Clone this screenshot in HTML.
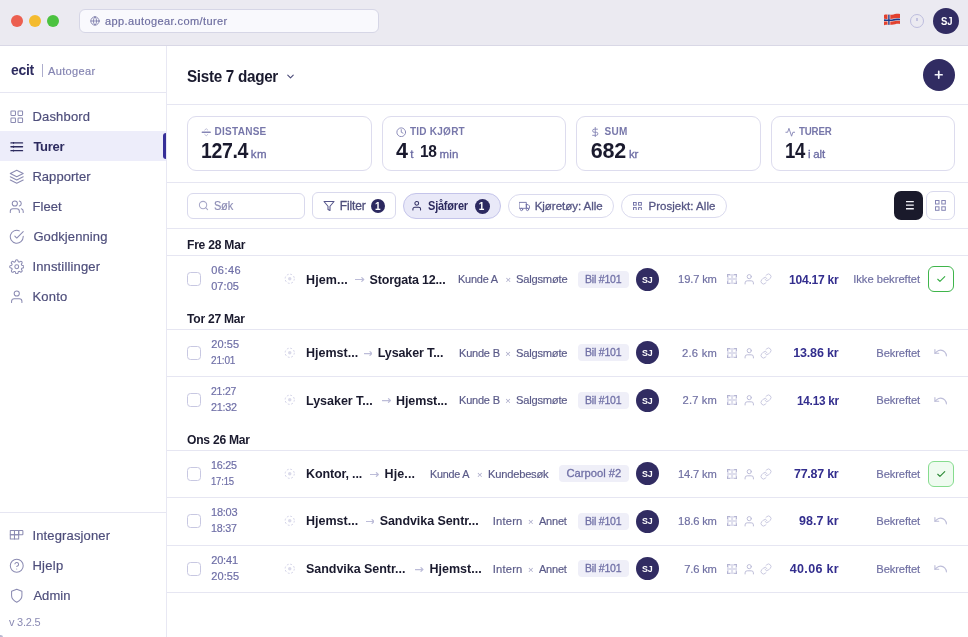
<!DOCTYPE html>
<html lang="nb"><head><meta charset="utf-8"><title>Autogear – Turer</title>
<style>
*{box-sizing:border-box;margin:0;padding:0}
html,body{width:968px;height:637px;overflow:hidden;background:#fff;font-family:"Liberation Sans",sans-serif;}
.abs,.t,svg.i{position:absolute}
.t{white-space:nowrap;display:block;transform-origin:0 50%}
.m{-webkit-text-stroke:0.3px currentColor}
.n{-webkit-text-stroke:0.18px currentColor}
.titlebar{position:absolute;left:0;top:0;width:968px;height:46px;background:#ebeaf1;border-bottom:1px solid #d9d8e6}
.dot{position:absolute;width:12px;height:12px;border-radius:50%;top:15px}
.url{position:absolute;left:79px;top:9px;width:300px;height:24px;background:#f9f9fd;border:1px solid #d6d6e6;border-radius:6px}
.av{position:absolute;border-radius:50%;background:#312c62}
.sidebar{position:absolute;left:0;top:46px;width:167px;height:591px;background:#fff;border-right:1px solid #e8e8f3}
.hl{position:absolute;height:1px;background:#e6e6f2}
.navact{position:absolute;left:0;top:131px;width:166px;height:30px;background:#ededfa}
.navbar{position:absolute;left:163px;top:133px;width:3px;height:26px;background:#372f98;border-radius:3px 0 0 3px}
.card{position:absolute;top:116px;height:55px;border:1px solid #dddcee;border-radius:9px;background:#fff}
.inp{position:absolute;border:1px solid #d9d9ed;background:#fff}
.badge{position:absolute;border-radius:50%;background:#2c2960}
.cb{position:absolute;left:187px;width:14px;height:14px;border:1px solid #c8c8e2;border-radius:3.5px;background:#fff}
.tag{position:absolute;height:17px;border-radius:4px;background:#efeff8}
.okb{position:absolute;left:928px;width:26px;height:26px;border-radius:6px;border:1px solid #3fb54b;background:#fff}
</style></head>
<body>
<header class="titlebar">
<div class="dot" style="left:11px;background:#ec5f50"></div>
<div class="dot" style="left:29px;background:#f4bb2f"></div>
<div class="dot" style="left:47px;background:#4bc240"></div>
<div class="url"></div>
<svg class="i" style="left:89.5px;top:15.5px" width="10" height="10" viewBox="0 0 24 24" fill="none" stroke="#7a7aa8" stroke-width="2" stroke-linecap="round" stroke-linejoin="round" ><circle cx="12" cy="12" r="10"/><path d="M2 12h20"/><path d="M12 2a15.3 15.3 0 0 1 4 10 15.3 15.3 0 0 1-4 10 15.3 15.3 0 0 1-4-10 15.3 15.3 0 0 1 4-10z"/></svg>
<span class="t n" style="left:105.0px;top:13.5px;font-size:11px;line-height:14px;color:#6e6ea0;letter-spacing:0.40px;">app.autogear.com/turer</span>
<svg class="i" style="left:884px;top:13px" width="16.2" height="13" viewBox="0 0 16.2 13"><defs><clipPath id="fl"><path d="M0 2C2.500 1 5 2.300 8 1.700S13.500 .2 16.200 1.100V11.100C13.500 10.200 11 11.400 8 11.700S2.500 11.300 0 12.300Z"/></clipPath></defs><g clip-path="url(#fl)"><rect width="16.200" height="13" fill="#e2412f"/><path d="M0 5.700C3 5.900 5 6.200 8 5.800S13 4.800 16.200 5.100V7.800C13 7.500 11 8.300 8 8.500S3 8.400 0 8.600Z" fill="#f3eeee"/><path d="M3.500 0H6.300V13H3.500z" fill="#f3eeee"/><path d="M0 6.300C3 6.500 5 6.800 8 6.400S13 5.400 16.200 5.700V7.200C13 6.900 11 7.700 8 7.900S3 7.800 0 8Z" fill="#1d3a8a"/><path d="M4.200 0H5.600V13H4.200z" fill="#1d3a8a"/></g></svg>
<div class="abs" style="left:909.7px;top:13.6px;width:14.5px;height:14.5px;border-radius:50%;border:1.2px solid #bdbdde"></div>
<div class="abs" style="left:916.2px;top:18.2px;width:1.5px;height:2.7px;background:#c3c3e0"></div>
<div class="av" style="left:933px;top:8px;width:26px;height:26px"></div>
<span class="t" style="left:940.6px;top:15.1px;font-size:10px;line-height:13px;font-weight:700;color:#fff;letter-spacing:-0.20px;transform:scaleX(0.950);">SJ</span>
</header>
<aside>
<div class="sidebar" style="top:46px"></div>
<span class="t" style="left:11.0px;top:61.0px;font-size:14px;line-height:18px;font-weight:700;color:#2d2b5f;letter-spacing:-0.28px;transform:scaleX(0.995);">ecit</span>
<div class="abs" style="left:42.1px;top:64.3px;width:1.3px;height:13px;background:#adadcd"></div>
<span class="t n" style="left:48.0px;top:64.0px;font-size:11px;line-height:14px;color:#8585b2;letter-spacing:0.36px;">Autogear</span>
<div class="hl" style="left:0;top:92px;width:166px"></div>
<div class="navact"></div><div class="navbar"></div>
<svg class="i" style="left:8.65px;top:108.55px" width="15.5" height="15.5" viewBox="0 0 24 24" fill="none" stroke="#8b8bb2" stroke-width="1.6" stroke-linecap="round" stroke-linejoin="round" ><rect x="3" y="3" width="7" height="7" rx="1"/><rect x="14" y="3" width="7" height="7" rx="1"/><rect x="3" y="14" width="7" height="7" rx="1"/><rect x="14" y="14" width="7" height="7" rx="1"/></svg>
<span class="t n" style="left:32.4px;top:107.8px;font-size:13px;line-height:17px;color:#4e4e7b;letter-spacing:0.19px;">Dashbord</span>
<svg class="i" style="left:8.65px;top:138.55px" width="15.5" height="15.5" viewBox="0 0 24 24" fill="none" stroke="#2d2b5f" stroke-width="2" stroke-linecap="round" stroke-linejoin="round" ><path d="M3 6h18M3 12h18M3 18h18"/><path d="M7 4.600v2.800M7 10.600v2.800M7 16.600v2.800" stroke-width="1.7" stroke-linecap="butt"/></svg>
<span class="t" style="left:33.4px;top:137.8px;font-size:13px;line-height:17px;font-weight:700;color:#2d2b5f;letter-spacing:-0.25px;">Turer</span>
<svg class="i" style="left:8.65px;top:168.55px" width="15.5" height="15.5" viewBox="0 0 24 24" fill="none" stroke="#8b8bb2" stroke-width="1.6" stroke-linecap="round" stroke-linejoin="round" ><path d="M12 2 2 7l10 5 10-5-10-5z"/><path d="m2 12 10 5 10-5"/><path d="m2 17 10 5 10-5"/></svg>
<span class="t n" style="left:32.4px;top:167.8px;font-size:13px;line-height:17px;color:#4e4e7b;letter-spacing:0.05px;">Rapporter</span>
<svg class="i" style="left:8.65px;top:198.55px" width="15.5" height="15.5" viewBox="0 0 24 24" fill="none" stroke="#8b8bb2" stroke-width="1.6" stroke-linecap="round" stroke-linejoin="round" ><path d="M16 21v-2a4 4 0 0 0-4-4H6a4 4 0 0 0-4 4v2"/><circle cx="9" cy="7" r="4"/><path d="M22 21v-2a4 4 0 0 0-3-3.87"/><path d="M16 3.13a4 4 0 0 1 0 7.75"/></svg>
<span class="t n" style="left:32.4px;top:197.8px;font-size:13px;line-height:17px;color:#4e4e7b;letter-spacing:0.10px;">Fleet</span>
<svg class="i" style="left:8.65px;top:228.55px" width="15.5" height="15.5" viewBox="0 0 24 24" fill="none" stroke="#8b8bb2" stroke-width="1.6" stroke-linecap="round" stroke-linejoin="round" ><path d="M22 11.08V12a10 10 0 1 1-5.93-9.14"/><path d="m9 11 3 3L22 4"/></svg>
<span class="t n" style="left:33.4px;top:227.8px;font-size:13px;line-height:17px;color:#4e4e7b;letter-spacing:0.10px;">Godkjenning</span>
<svg class="i" style="left:8.65px;top:258.55px" width="15.5" height="15.5" viewBox="0 0 24 24" fill="none" stroke="#8b8bb2" stroke-width="1.6" stroke-linecap="round" stroke-linejoin="round" ><circle cx="12" cy="12" r="3"/><path d="M19.4 15a1.65 1.65 0 0 0 .33 1.82l.06.06a2 2 0 1 1-2.83 2.83l-.06-.06a1.65 1.65 0 0 0-1.82-.33 1.65 1.65 0 0 0-1 1.51V21a2 2 0 0 1-4 0v-.09A1.65 1.65 0 0 0 9 19.4a1.65 1.65 0 0 0-1.82.33l-.06.06a2 2 0 1 1-2.83-2.83l.06-.06a1.65 1.65 0 0 0 .33-1.82 1.65 1.65 0 0 0-1.51-1H3a2 2 0 0 1 0-4h.09A1.65 1.65 0 0 0 4.6 9a1.65 1.65 0 0 0-.33-1.82l-.06-.06a2 2 0 1 1 2.83-2.83l.06.06a1.65 1.65 0 0 0 1.82.33H9a1.65 1.65 0 0 0 1-1.51V3a2 2 0 0 1 4 0v.09a1.65 1.65 0 0 0 1 1.51 1.65 1.65 0 0 0 1.82-.33l.06-.06a2 2 0 1 1 2.83 2.83l-.06.06a1.65 1.65 0 0 0-.33 1.82V9a1.65 1.65 0 0 0 1.51 1H21a2 2 0 0 1 0 4h-.09a1.65 1.65 0 0 0-1.51 1z"/></svg>
<span class="t n" style="left:32.4px;top:257.8px;font-size:13px;line-height:17px;color:#4e4e7b;letter-spacing:0.16px;">Innstillinger</span>
<svg class="i" style="left:8.65px;top:288.55px" width="15.5" height="15.5" viewBox="0 0 24 24" fill="none" stroke="#8b8bb2" stroke-width="1.6" stroke-linecap="round" stroke-linejoin="round" ><path d="M20 21v-2a4 4 0 0 0-4-4H8a4 4 0 0 0-4 4v2"/><circle cx="12" cy="7" r="4"/></svg>
<span class="t n" style="left:32.4px;top:287.8px;font-size:13px;line-height:17px;color:#4e4e7b;letter-spacing:0.24px;">Konto</span>
<div class="hl" style="left:0;top:512px;width:166px"></div>
<svg class="i" style="left:8.65px;top:527.85px" width="15.5" height="15.5" viewBox="0 0 24 24" fill="none" stroke="#8b8bb2" stroke-width="1.6" stroke-linecap="round" stroke-linejoin="round" ><rect x="2" y="4" width="6.5" height="6.5"/><rect x="8.5" y="4" width="6.5" height="6.5"/><rect x="15" y="4" width="6.5" height="6.5" rx="1"/><rect x="2" y="10.5" width="6.5" height="6.5"/><rect x="8.5" y="10.5" width="6.5" height="6.5"/></svg>
<span class="t n" style="left:32.4px;top:527.1px;font-size:13px;line-height:17px;color:#4e4e7b;letter-spacing:0.15px;">Integrasjoner</span>
<svg class="i" style="left:8.65px;top:557.85px" width="15.5" height="15.5" viewBox="0 0 24 24" fill="none" stroke="#8b8bb2" stroke-width="1.6" stroke-linecap="round" stroke-linejoin="round" ><circle cx="12" cy="12" r="10"/><path d="M9.09 9a3 3 0 0 1 5.83 1c0 2-3 3-3 3"/><path d="M12 17h.01"/></svg>
<span class="t n" style="left:32.4px;top:557.1px;font-size:13px;line-height:17px;color:#4e4e7b;letter-spacing:0.30px;">Hjelp</span>
<svg class="i" style="left:8.65px;top:587.85px" width="15.5" height="15.5" viewBox="0 0 24 24" fill="none" stroke="#8b8bb2" stroke-width="1.6" stroke-linecap="round" stroke-linejoin="round" ><path d="M12 22s8-4 8-10V5l-8-3-8 3v7c0 6 8 10 8 10z"/></svg>
<span class="t n" style="left:33.4px;top:587.1px;font-size:13px;line-height:17px;color:#4e4e7b;letter-spacing:0.05px;">Admin</span>
<span class="t" style="left:9.0px;top:615.2px;font-size:11px;line-height:14px;color:#8a8ab3;letter-spacing:-0.22px;transform:scaleX(0.997);">v 3.2.5</span>
<div class="abs" style="left:0;top:635px;width:2.5px;height:2px;background:#b9b9d3;border-radius:0 100% 0 0"></div>
</aside>
<main>
<section class="pagehead">
<span class="t" style="left:187.3px;top:65.6px;font-size:16px;line-height:21px;font-weight:700;color:#1a1a2e;letter-spacing:-0.32px;transform:scaleX(0.953);">Siste 7 dager</span>
<svg class="i" style="left:284.5px;top:70.5px" width="11" height="11" viewBox="0 0 24 24" fill="none" stroke="#4a4a78" stroke-width="2.4" stroke-linecap="round" stroke-linejoin="round" ><path d="m6 9 6 6 6-6"/></svg>
<div class="av" style="left:923px;top:59px;width:32px;height:32px"></div>
<svg class="i" style="left:933.25px;top:69.45px" width="11.5" height="11.5" viewBox="0 0 24 24" fill="none" stroke="#f4f4fb" stroke-width="3.6" stroke-linecap="round" stroke-linejoin="round" ><path d="M12 5v14M5 12h14"/></svg>
<div class="hl" style="left:167px;top:104px;width:801px"></div>
</section>
<section class="stats">
<div class="card" style="left:187px;width:184.5px"></div>
<svg class="i" style="left:200.65px;top:126.55px" width="10.5" height="10.5" viewBox="0 0 24 24" fill="none" stroke="#8585b5" stroke-width="2.1" stroke-linecap="round" stroke-linejoin="round" ><path d="M3 12h18" stroke-width="3.4"/><path d="m8.500 7 3.500-3 3.500 3" stroke-width="1.6" opacity=".75"/><path d="m8.500 17 3.500 3 3.500-3" stroke-width="1.6" opacity=".75"/></svg>
<span class="t" style="left:214.6px;top:125.4px;font-size:10px;line-height:13px;font-weight:700;color:#7777aa;letter-spacing:0.26px;">DISTANSE</span>
<span class="t" style="left:200.7px;top:136.8px;font-size:21.5px;line-height:28px;font-weight:700;color:#1a1a2e;letter-spacing:-0.43px;transform:scaleX(0.908);">127.4</span>
<span class="t m" style="left:250.7px;top:146.8px;font-size:11.5px;line-height:15px;color:#6b6ba3;letter-spacing:0.55px;">km</span>
<div class="card" style="left:382px;width:184px"></div>
<svg class="i" style="left:395.65px;top:126.55px" width="10.5" height="10.5" viewBox="0 0 24 24" fill="none" stroke="#8585b5" stroke-width="2.1" stroke-linecap="round" stroke-linejoin="round" ><circle cx="12" cy="12" r="10"/><path d="M12 6v6l4 2"/></svg>
<span class="t" style="left:410.0px;top:125.4px;font-size:10px;line-height:13px;font-weight:700;color:#7777aa;letter-spacing:0.24px;">TID KJØRT</span>
<span class="t" style="left:396.1px;top:136.8px;font-size:21.5px;line-height:28px;font-weight:700;color:#1a1a2e;">4</span>
<span class="t m" style="left:410.2px;top:146.8px;font-size:11.5px;line-height:15px;color:#6b6ba3;">t</span>
<span class="t" style="left:420.4px;top:141.3px;font-size:17px;line-height:22px;font-weight:700;color:#1a1a2e;letter-spacing:-0.34px;transform:scaleX(0.912);">18</span>
<span class="t m" style="left:439.4px;top:146.8px;font-size:11.5px;line-height:15px;color:#6b6ba3;letter-spacing:0.23px;">min</span>
<div class="card" style="left:576.3px;width:184.3px"></div>
<svg class="i" style="left:589.95px;top:126.55px" width="10.5" height="10.5" viewBox="0 0 24 24" fill="none" stroke="#8585b5" stroke-width="2.1" stroke-linecap="round" stroke-linejoin="round" ><path d="M12 1v22"/><path d="M17 5H9.5a3.5 3.5 0 0 0 0 7h5a3.5 3.5 0 0 1 0 7H6"/></svg>
<span class="t" style="left:604.4px;top:125.4px;font-size:10px;line-height:13px;font-weight:700;color:#7777aa;letter-spacing:0.35px;">SUM</span>
<span class="t" style="left:590.7px;top:136.8px;font-size:21.5px;line-height:28px;font-weight:700;color:#1a1a2e;letter-spacing:-0.16px;">682</span>
<span class="t m" style="left:629.2px;top:146.8px;font-size:11.5px;line-height:15px;color:#6b6ba3;letter-spacing:-0.23px;transform:scaleX(0.998);">kr</span>
<div class="card" style="left:771.3px;width:183.7px"></div>
<svg class="i" style="left:784.95px;top:126.55px" width="10.5" height="10.5" viewBox="0 0 24 24" fill="none" stroke="#8585b5" stroke-width="2.1" stroke-linecap="round" stroke-linejoin="round" ><path d="M22 12h-4l-3 9L9 3l-3 9H2"/></svg>
<span class="t" style="left:799.0px;top:125.4px;font-size:10px;line-height:13px;font-weight:700;color:#7777aa;letter-spacing:-0.20px;transform:scaleX(0.973);">TURER</span>
<span class="t" style="left:784.5px;top:136.8px;font-size:21.5px;line-height:28px;font-weight:700;color:#1a1a2e;letter-spacing:-0.43px;transform:scaleX(0.861);">14</span>
<span class="t m" style="left:808.0px;top:146.8px;font-size:11.5px;line-height:15px;color:#6b6ba3;letter-spacing:-0.20px;">i alt</span>
<div class="hl" style="left:167px;top:182px;width:801px"></div>
</section>
<section class="filters">
<div class="inp" style="left:187px;top:193px;width:118px;height:26px;border-radius:6px"></div>
<svg class="i" style="left:198.1px;top:200px" width="11" height="11" viewBox="0 0 24 24" fill="none" stroke="#a8a8c8" stroke-width="2.3" stroke-linecap="round" stroke-linejoin="round" ><circle cx="11" cy="11" r="8"/><path d="m21 21-4.35-4.35"/></svg>
<span class="t n" style="left:214.3px;top:197.8px;font-size:12.3px;line-height:16px;color:#8e8eb6;letter-spacing:-0.25px;transform:scaleX(0.896);">Søk</span>
<div class="inp" style="left:312px;top:192px;width:84px;height:27px;border-radius:6px"></div>
<svg class="i" style="left:322.6px;top:199.9px" width="12" height="12" viewBox="0 0 24 24" fill="none" stroke="#55558a" stroke-width="2.1" stroke-linecap="round" stroke-linejoin="round" ><path d="M22 3H2l8 9.46V19l4 2v-8.54L22 3z"/></svg>
<span class="t m" style="left:339.8px;top:198.0px;font-size:12px;line-height:16px;color:#4e4e7b;letter-spacing:-0.13px;">Filter</span>
<div class="badge" style="left:371.3px;top:198.8px;width:14px;height:14px"></div>
<span class="t" style="left:375.1px;top:199.5px;font-size:10px;line-height:13px;font-weight:700;color:#fff;">1</span>
<div class="inp" style="left:403px;top:193px;width:98px;height:26px;border-radius:13px;background:#e9e9f8;border-color:#c4c4ea"></div>
<svg class="i" style="left:410.65px;top:199.95px" width="11.5" height="11.5" viewBox="0 0 24 24" fill="none" stroke="#2d2b5f" stroke-width="2.1" stroke-linecap="round" stroke-linejoin="round" ><path d="M20 21v-2a4 4 0 0 0-4-4H8a4 4 0 0 0-4 4v2"/><circle cx="12" cy="7" r="4"/></svg>
<span class="t" style="left:427.6px;top:198.0px;font-size:12px;line-height:16px;font-weight:700;color:#2d2b5f;letter-spacing:-0.24px;transform:scaleX(0.918);">Sjåfører</span>
<div class="badge" style="left:474.5px;top:198.5px;width:15px;height:15px"></div>
<span class="t" style="left:478.8px;top:199.6px;font-size:10px;line-height:13px;font-weight:700;color:#fff;">1</span>
<div class="inp" style="left:508.4px;top:194px;width:105.3px;height:24px;border-radius:12px;border-color:#dadaee"></div>
<svg class="i" style="left:518.6px;top:200.5px" width="11" height="11" viewBox="0 0 24 24" fill="none" stroke="#6b6ba3" stroke-width="1.9" stroke-linecap="round" stroke-linejoin="round" ><path d="M1 3h15v13H1z"/><path d="M16 8h4l3 3v5h-7V8z"/><circle cx="5.5" cy="18.5" r="2.5"/><circle cx="18.5" cy="18.5" r="2.5"/></svg>
<span class="t m" style="left:534.7px;top:198.5px;font-size:11.5px;line-height:15px;color:#565684;letter-spacing:-0.03px;">Kjøretøy: Alle</span>
<div class="inp" style="left:621px;top:194px;width:105.5px;height:24px;border-radius:12px;border-color:#dadaee"></div>
<svg class="i" style="left:633.00px;top:201.60px" width="8.80" height="8.80" fill="none" stroke="#6b6ba3" stroke-width="0.9"><rect x="0.45" y="0.45" width="2.75" height="2.75"/><rect x="0.45" y="5.60" width="2.75" height="2.75"/><rect x="5.60" y="0.45" width="2.75" height="2.75"/><rect x="5.60" y="5.60" width="2.75" height="2.75"/></svg>
<span class="t m" style="left:648.5px;top:198.5px;font-size:11.5px;line-height:15px;color:#565684;letter-spacing:0.03px;">Prosjekt: Alle</span>
<div class="abs" style="left:894px;top:191px;width:29px;height:29px;border-radius:7px;background:#1a1a2b"></div>
<svg class="i" style="left:906.00px;top:201.40px" width="7.80" height="8.40" fill="none" stroke="#f4f4fa" stroke-width="1.3"><path d="M0 0.65H7.80M0 4.20H7.80M0 7.75H7.80"/></svg>
<div class="inp" style="left:926px;top:191px;width:29px;height:29px;border-radius:7px"></div>
<svg class="i" style="left:935.15px;top:200.10px" width="10.80" height="10.80" fill="none" stroke="#8585b5" stroke-width="1"><rect x="0.50" y="0.50" width="3.50" height="3.50"/><rect x="0.50" y="6.80" width="3.50" height="3.50"/><rect x="6.80" y="0.50" width="3.50" height="3.50"/><rect x="6.80" y="6.80" width="3.50" height="3.50"/></svg>
<div class="hl" style="left:167px;top:228px;width:801px"></div>
</section>
<section class="trips">
<span class="t" style="left:187.3px;top:237.2px;font-size:12.5px;line-height:16px;font-weight:700;color:#1a1a2e;letter-spacing:-0.25px;transform:scaleX(0.968);">Fre 28 Mar</span>
<div class="hl" style="left:167px;top:255.3px;width:801px"></div>
<div class="trip">
<div class="cb" style="top:272.1px"></div>
<span class="t n" style="left:211.2px;top:263.4px;font-size:11px;line-height:14px;color:#6e6ea6;letter-spacing:0.50px;">06:46</span>
<span class="t n" style="left:211.2px;top:279.4px;font-size:11px;line-height:14px;color:#6e6ea6;letter-spacing:0.05px;">07:05</span>
<svg class="i" style="left:283.65px;top:273.35px" width="11.5" height="11.5" viewBox="0 0 24 24" fill="none" stroke="#d0d0e6" stroke-width="2" stroke-linecap="round" stroke-linejoin="round" ><circle cx="12" cy="12" r="9.6" stroke-dasharray="3.9 3.64" stroke-linecap="butt"/><circle cx="12" cy="12" r="3.6" fill="#dadaea" stroke="none"/></svg>
<span class="t" style="left:306.0px;top:271.7px;font-size:12.5px;line-height:16px;font-weight:700;color:#1a1a2e;letter-spacing:0.13px;">Hjem...</span>
<svg class="i" style="left:355.3px;top:275.9px" width="9.3" height="7" viewBox="0 0 9.3 7" fill="none" stroke="#bcbcd8" stroke-width="1.25" stroke-linecap="round" stroke-linejoin="round"><path d="M0.5 3.5H8.7 M6.8 1.6 8.7 3.5 6.8 5.4"/></svg>
<span class="t" style="left:369.6px;top:271.7px;font-size:12.5px;line-height:16px;font-weight:700;color:#1a1a2e;letter-spacing:-0.19px;">Storgata 12...</span>
<span class="t n" style="left:458.0px;top:272.2px;font-size:11.2px;line-height:15px;color:#5a5a88;letter-spacing:-0.22px;transform:scaleX(0.976);">Kunde A</span>
<span class="t" style="left:505.5px;top:274.2px;font-size:9.5px;line-height:12px;color:#a5a5c6;">&times;</span>
<span class="t n" style="left:516.0px;top:272.2px;font-size:11.2px;line-height:15px;color:#5a5a88;letter-spacing:-0.22px;transform:scaleX(0.999);">Salgsmøte</span>
<div class="tag" style="left:578.2px;top:271px;width:50.4px"></div>
<span class="t m" style="left:585.0px;top:272.1px;font-size:11.2px;line-height:15px;color:#7070a6;letter-spacing:-0.22px;transform:scaleX(0.942);">Bil #101</span>
<div class="av" style="left:636px;top:267.7px;width:23px;height:23px"></div>
<span class="t" style="left:642.2px;top:273.9px;font-size:9.5px;line-height:12px;font-weight:700;color:#fff;letter-spacing:-0.19px;transform:scaleX(0.933);">SJ</span>
<span class="t n" style="left:678.1px;top:272.2px;font-size:11.2px;line-height:15px;color:#7070a3;letter-spacing:-0.16px;">19.7 km</span>
<svg class="i" style="left:726.8px;top:274px" width="10.2" height="10.2" viewBox="0 0 10 10"><rect width="10" height="10" fill="#dedeed"/><path d="M.5 3V.5H3M7 .5h2.5V3M9.5 7v2.5H7M3 9.500H.5V7" fill="none" stroke="#b4b4d2" stroke-width="1"/><path d="M1.7 1.700h2.300v2.300H1.700zM6 1.700h2.300v2.300H6zM1.700 6h2.300v2.300H1.700zM6 6h2.300v2.300H6z" fill="#fff"/></svg>
<svg class="i" style="left:742.95px;top:272.85px" width="12.5" height="12.5" viewBox="0 0 24 24" fill="none" stroke="#bcbcd8" stroke-width="1.9" stroke-linecap="round" stroke-linejoin="round" ><path d="M20 21v-2a4 4 0 0 0-4-4H8a4 4 0 0 0-4 4v2"/><circle cx="12" cy="7" r="4"/></svg>
<svg class="i" style="left:759.9px;top:273.1px" width="12" height="12" viewBox="0 0 24 24" fill="none" stroke="#c6c6de" stroke-width="1.9" stroke-linecap="round" stroke-linejoin="round" ><path d="M10 13a5 5 0 0 0 7.54.54l3-3a5 5 0 0 0-7.07-7.07l-1.72 1.71"/><path d="M14 11a5 5 0 0 0-7.54-.54l-3 3a5 5 0 0 0 7.07 7.07l1.71-1.71"/></svg>
<span class="t" style="left:788.9px;top:271.7px;font-size:12.5px;line-height:16px;font-weight:700;color:#332e8e;letter-spacing:-0.25px;transform:scaleX(0.966);">104.17 kr</span>
<span class="t n" style="left:853.2px;top:272.2px;font-size:11.2px;line-height:15px;color:#7070a3;letter-spacing:-0.02px;">Ikke bekreftet</span>
<div class="okb" style="top:266.3px"></div>
<svg class="i" style="left:935.85px;top:274.05px" width="10.5" height="10.5" viewBox="0 0 24 24" fill="none" stroke="#36ad44" stroke-width="2.5" stroke-linecap="round" stroke-linejoin="round" ><path d="M20 6 9 17l-5-5"/></svg>
</div>
<span class="t" style="left:187.3px;top:311.2px;font-size:12.5px;line-height:16px;font-weight:700;color:#1a1a2e;letter-spacing:-0.25px;transform:scaleX(0.967);">Tor 27 Mar</span>
<div class="hl" style="left:167px;top:329.3px;width:801px"></div>
<div class="trip">
<div class="cb" style="top:345.85px"></div>
<span class="t n" style="left:211.2px;top:337.2px;font-size:11px;line-height:14px;color:#6e6ea6;letter-spacing:0.12px;">20:55</span>
<span class="t n" style="left:211.2px;top:353.2px;font-size:11px;line-height:14px;color:#6e6ea6;letter-spacing:-0.22px;transform:scaleX(0.916);">21:01</span>
<svg class="i" style="left:283.65px;top:347.1px" width="11.5" height="11.5" viewBox="0 0 24 24" fill="none" stroke="#d0d0e6" stroke-width="2" stroke-linecap="round" stroke-linejoin="round" ><circle cx="12" cy="12" r="9.6" stroke-dasharray="3.9 3.64" stroke-linecap="butt"/><circle cx="12" cy="12" r="3.6" fill="#dadaea" stroke="none"/></svg>
<span class="t" style="left:306.0px;top:345.1px;font-size:12.5px;line-height:16px;font-weight:700;color:#1a1a2e;letter-spacing:0.01px;">Hjemst...</span>
<svg class="i" style="left:363.7px;top:349.65px" width="8.5" height="7" viewBox="0 0 8.5 7" fill="none" stroke="#bcbcd8" stroke-width="1.25" stroke-linecap="round" stroke-linejoin="round"><path d="M0.5 3.5H7.9 M6 1.6 7.9 3.5 6 5.4"/></svg>
<span class="t" style="left:377.8px;top:345.1px;font-size:12.5px;line-height:16px;font-weight:700;color:#1a1a2e;letter-spacing:-0.12px;">Lysaker T...</span>
<span class="t n" style="left:458.9px;top:345.6px;font-size:11.2px;line-height:15px;color:#5a5a88;letter-spacing:-0.22px;transform:scaleX(0.985);">Kunde B</span>
<span class="t" style="left:505.2px;top:347.6px;font-size:9.5px;line-height:12px;color:#a5a5c6;">&times;</span>
<span class="t n" style="left:516.3px;top:345.6px;font-size:11.2px;line-height:15px;color:#5a5a88;letter-spacing:-0.22px;transform:scaleX(0.995);">Salgsmøte</span>
<div class="tag" style="left:578.2px;top:344px;width:50.4px"></div>
<span class="t m" style="left:585.0px;top:345.1px;font-size:11.2px;line-height:15px;color:#7070a6;letter-spacing:-0.22px;transform:scaleX(0.942);">Bil #101</span>
<div class="av" style="left:636px;top:341.45px;width:23px;height:23px"></div>
<span class="t" style="left:642.2px;top:347.2px;font-size:9.5px;line-height:12px;font-weight:700;color:#fff;letter-spacing:-0.19px;transform:scaleX(0.933);">SJ</span>
<span class="t n" style="left:682.0px;top:345.6px;font-size:11.2px;line-height:15px;color:#7070a3;letter-spacing:0.27px;">2.6 km</span>
<svg class="i" style="left:726.8px;top:347.75px" width="10.2" height="10.2" viewBox="0 0 10 10"><rect width="10" height="10" fill="#dedeed"/><path d="M.5 3V.5H3M7 .5h2.5V3M9.5 7v2.5H7M3 9.500H.5V7" fill="none" stroke="#b4b4d2" stroke-width="1"/><path d="M1.7 1.700h2.300v2.300H1.700zM6 1.700h2.300v2.300H6zM1.700 6h2.300v2.300H1.700zM6 6h2.300v2.300H6z" fill="#fff"/></svg>
<svg class="i" style="left:742.95px;top:346.6px" width="12.5" height="12.5" viewBox="0 0 24 24" fill="none" stroke="#bcbcd8" stroke-width="1.9" stroke-linecap="round" stroke-linejoin="round" ><path d="M20 21v-2a4 4 0 0 0-4-4H8a4 4 0 0 0-4 4v2"/><circle cx="12" cy="7" r="4"/></svg>
<svg class="i" style="left:759.9px;top:346.85px" width="12" height="12" viewBox="0 0 24 24" fill="none" stroke="#c6c6de" stroke-width="1.9" stroke-linecap="round" stroke-linejoin="round" ><path d="M10 13a5 5 0 0 0 7.54.54l3-3a5 5 0 0 0-7.07-7.07l-1.72 1.71"/><path d="M14 11a5 5 0 0 0-7.54-.54l-3 3a5 5 0 0 0 7.07 7.07l1.71-1.71"/></svg>
<span class="t" style="left:793.2px;top:345.1px;font-size:12.5px;line-height:16px;font-weight:700;color:#332e8e;letter-spacing:-0.16px;">13.86 kr</span>
<span class="t n" style="left:876.3px;top:345.6px;font-size:11.2px;line-height:15px;color:#7070a3;letter-spacing:-0.12px;">Bekreftet</span>
<svg class="i" style="left:933.45px;top:345.3px" width="15.3" height="15.3" viewBox="0 0 24 24" fill="none" stroke="#bcbcd8" stroke-width="1.7" stroke-linecap="round" stroke-linejoin="round" ><path d="M3 7v6h6"/><path d="M21 17a9 9 0 0 0-9-9 9 9 0 0 0-6 2.300L3 13"/></svg>
<div class="hl" style="left:167px;top:376px;width:801px"></div>
</div>
<div class="trip">
<div class="cb" style="top:393.05px"></div>
<span class="t n" style="left:211.2px;top:384.4px;font-size:11px;line-height:14px;color:#6e6ea6;letter-spacing:-0.22px;transform:scaleX(0.950);">21:27</span>
<span class="t n" style="left:211.2px;top:400.4px;font-size:11px;line-height:14px;color:#6e6ea6;letter-spacing:-0.22px;transform:scaleX(0.980);">21:32</span>
<svg class="i" style="left:283.65px;top:394.3px" width="11.5" height="11.5" viewBox="0 0 24 24" fill="none" stroke="#d0d0e6" stroke-width="2" stroke-linecap="round" stroke-linejoin="round" ><circle cx="12" cy="12" r="9.6" stroke-dasharray="3.9 3.64" stroke-linecap="butt"/><circle cx="12" cy="12" r="3.6" fill="#dadaea" stroke="none"/></svg>
<span class="t" style="left:306.0px;top:392.7px;font-size:12.5px;line-height:16px;font-weight:700;color:#1a1a2e;letter-spacing:-0.02px;">Lysaker T...</span>
<svg class="i" style="left:381.5px;top:396.85px" width="9" height="7" viewBox="0 0 9 7" fill="none" stroke="#bcbcd8" stroke-width="1.25" stroke-linecap="round" stroke-linejoin="round"><path d="M0.5 3.5H8.4 M6.5 1.6 8.4 3.5 6.5 5.4"/></svg>
<span class="t" style="left:396.0px;top:392.7px;font-size:12.5px;line-height:16px;font-weight:700;color:#1a1a2e;letter-spacing:-0.08px;">Hjemst...</span>
<span class="t n" style="left:458.9px;top:393.2px;font-size:11.2px;line-height:15px;color:#5a5a88;letter-spacing:-0.22px;transform:scaleX(0.985);">Kunde B</span>
<span class="t" style="left:505.2px;top:395.2px;font-size:9.5px;line-height:12px;color:#a5a5c6;">&times;</span>
<span class="t n" style="left:516.3px;top:393.2px;font-size:11.2px;line-height:15px;color:#5a5a88;letter-spacing:-0.22px;transform:scaleX(0.995);">Salgsmøte</span>
<div class="tag" style="left:578.2px;top:392px;width:50.4px"></div>
<span class="t m" style="left:585.0px;top:393.1px;font-size:11.2px;line-height:15px;color:#7070a6;letter-spacing:-0.22px;transform:scaleX(0.942);">Bil #101</span>
<div class="av" style="left:636px;top:388.65px;width:23px;height:23px"></div>
<span class="t" style="left:642.2px;top:394.9px;font-size:9.5px;line-height:12px;font-weight:700;color:#fff;letter-spacing:-0.19px;transform:scaleX(0.933);">SJ</span>
<span class="t n" style="left:682.6px;top:393.2px;font-size:11.2px;line-height:15px;color:#7070a3;letter-spacing:0.15px;">2.7 km</span>
<svg class="i" style="left:726.8px;top:394.95px" width="10.2" height="10.2" viewBox="0 0 10 10"><rect width="10" height="10" fill="#dedeed"/><path d="M.5 3V.5H3M7 .5h2.5V3M9.5 7v2.5H7M3 9.500H.5V7" fill="none" stroke="#b4b4d2" stroke-width="1"/><path d="M1.7 1.700h2.300v2.300H1.700zM6 1.700h2.300v2.300H6zM1.700 6h2.300v2.300H1.700zM6 6h2.300v2.300H6z" fill="#fff"/></svg>
<svg class="i" style="left:742.95px;top:393.8px" width="12.5" height="12.5" viewBox="0 0 24 24" fill="none" stroke="#bcbcd8" stroke-width="1.9" stroke-linecap="round" stroke-linejoin="round" ><path d="M20 21v-2a4 4 0 0 0-4-4H8a4 4 0 0 0-4 4v2"/><circle cx="12" cy="7" r="4"/></svg>
<svg class="i" style="left:759.9px;top:394.05px" width="12" height="12" viewBox="0 0 24 24" fill="none" stroke="#c6c6de" stroke-width="1.9" stroke-linecap="round" stroke-linejoin="round" ><path d="M10 13a5 5 0 0 0 7.54.54l3-3a5 5 0 0 0-7.07-7.07l-1.72 1.71"/><path d="M14 11a5 5 0 0 0-7.54-.54l-3 3a5 5 0 0 0 7.07 7.07l1.71-1.71"/></svg>
<span class="t" style="left:796.5px;top:392.7px;font-size:12.5px;line-height:16px;font-weight:700;color:#332e8e;letter-spacing:-0.25px;transform:scaleX(0.941);">14.13 kr</span>
<span class="t n" style="left:876.3px;top:393.2px;font-size:11.2px;line-height:15px;color:#7070a3;letter-spacing:-0.12px;">Bekreftet</span>
<svg class="i" style="left:933.45px;top:392.5px" width="15.3" height="15.3" viewBox="0 0 24 24" fill="none" stroke="#bcbcd8" stroke-width="1.7" stroke-linecap="round" stroke-linejoin="round" ><path d="M3 7v6h6"/><path d="M21 17a9 9 0 0 0-9-9 9 9 0 0 0-6 2.300L3 13"/></svg>
</div>
<span class="t" style="left:187.3px;top:432.2px;font-size:12.5px;line-height:16px;font-weight:700;color:#1a1a2e;letter-spacing:-0.25px;transform:scaleX(0.968);">Ons 26 Mar</span>
<div class="hl" style="left:167px;top:450.3px;width:801px"></div>
<div class="trip">
<div class="cb" style="top:466.8px"></div>
<span class="t n" style="left:211.2px;top:458.1px;font-size:11px;line-height:14px;color:#6e6ea6;letter-spacing:-0.22px;transform:scaleX(0.980);">16:25</span>
<span class="t n" style="left:211.2px;top:474.1px;font-size:11px;line-height:14px;color:#6e6ea6;letter-spacing:-0.22px;transform:scaleX(0.867);">17:15</span>
<svg class="i" style="left:283.65px;top:468.05px" width="11.5" height="11.5" viewBox="0 0 24 24" fill="none" stroke="#d0d0e6" stroke-width="2" stroke-linecap="round" stroke-linejoin="round" ><circle cx="12" cy="12" r="9.6" stroke-dasharray="3.9 3.64" stroke-linecap="butt"/><circle cx="12" cy="12" r="3.6" fill="#dadaea" stroke="none"/></svg>
<span class="t" style="left:306.0px;top:466.0px;font-size:12.5px;line-height:16px;font-weight:700;color:#1a1a2e;letter-spacing:-0.14px;">Kontor, ...</span>
<svg class="i" style="left:370.4px;top:470.6px" width="8.9" height="7" viewBox="0 0 8.9 7" fill="none" stroke="#bcbcd8" stroke-width="1.25" stroke-linecap="round" stroke-linejoin="round"><path d="M0.5 3.5H8.3 M6.4 1.6 8.3 3.5 6.4 5.4"/></svg>
<span class="t" style="left:384.5px;top:466.0px;font-size:12.5px;line-height:16px;font-weight:700;color:#1a1a2e;letter-spacing:0.14px;">Hje...</span>
<span class="t n" style="left:430.2px;top:466.5px;font-size:11.2px;line-height:15px;color:#5a5a88;letter-spacing:-0.22px;transform:scaleX(0.964);">Kunde A</span>
<span class="t" style="left:477.0px;top:468.5px;font-size:9.5px;line-height:12px;color:#a5a5c6;">&times;</span>
<span class="t n" style="left:487.5px;top:466.5px;font-size:11.2px;line-height:15px;color:#5a5a88;letter-spacing:-0.22px;transform:scaleX(0.997);">Kundebesøk</span>
<div class="tag" style="left:558.9px;top:465px;width:69.7px"></div>
<span class="t m" style="left:566.4px;top:466.1px;font-size:11.2px;line-height:15px;color:#7070a6;letter-spacing:0.01px;">Carpool #2</span>
<div class="av" style="left:636px;top:462.4px;width:23px;height:23px"></div>
<span class="t" style="left:642.2px;top:468.2px;font-size:9.5px;line-height:12px;font-weight:700;color:#fff;letter-spacing:-0.19px;transform:scaleX(0.933);">SJ</span>
<span class="t n" style="left:677.9px;top:466.5px;font-size:11.2px;line-height:15px;color:#7070a3;letter-spacing:-0.13px;">14.7 km</span>
<svg class="i" style="left:726.8px;top:468.7px" width="10.2" height="10.2" viewBox="0 0 10 10"><rect width="10" height="10" fill="#dedeed"/><path d="M.5 3V.5H3M7 .5h2.5V3M9.5 7v2.5H7M3 9.500H.5V7" fill="none" stroke="#b4b4d2" stroke-width="1"/><path d="M1.7 1.700h2.300v2.300H1.700zM6 1.700h2.300v2.300H6zM1.700 6h2.300v2.300H1.700zM6 6h2.300v2.300H6z" fill="#fff"/></svg>
<svg class="i" style="left:742.95px;top:467.55px" width="12.5" height="12.5" viewBox="0 0 24 24" fill="none" stroke="#bcbcd8" stroke-width="1.9" stroke-linecap="round" stroke-linejoin="round" ><path d="M20 21v-2a4 4 0 0 0-4-4H8a4 4 0 0 0-4 4v2"/><circle cx="12" cy="7" r="4"/></svg>
<svg class="i" style="left:759.9px;top:467.8px" width="12" height="12" viewBox="0 0 24 24" fill="none" stroke="#c6c6de" stroke-width="1.9" stroke-linecap="round" stroke-linejoin="round" ><path d="M10 13a5 5 0 0 0 7.54.54l3-3a5 5 0 0 0-7.07-7.07l-1.72 1.71"/><path d="M14 11a5 5 0 0 0-7.54-.54l-3 3a5 5 0 0 0 7.07 7.07l1.71-1.71"/></svg>
<span class="t" style="left:794.0px;top:466.0px;font-size:12.5px;line-height:16px;font-weight:700;color:#332e8e;letter-spacing:-0.25px;transform:scaleX(0.997);">77.87 kr</span>
<span class="t n" style="left:876.3px;top:466.5px;font-size:11.2px;line-height:15px;color:#7070a3;letter-spacing:-0.12px;">Bekreftet</span>
<div class="okb" style="top:461px;width:26px;height:26px;border-radius:6px;background:#effbf0;border-color:#86dc8e"></div>
<svg class="i" style="left:935.85px;top:468.75px" width="10.5" height="10.5" viewBox="0 0 24 24" fill="none" stroke="#2e8a38" stroke-width="2.6" stroke-linecap="round" stroke-linejoin="round" ><path d="M20 6 9 17l-5-5"/></svg>
<div class="hl" style="left:167px;top:497px;width:801px"></div>
</div>
<div class="trip">
<div class="cb" style="top:513.9px"></div>
<span class="t n" style="left:211.2px;top:505.2px;font-size:11px;line-height:14px;color:#6e6ea6;letter-spacing:-0.22px;transform:scaleX(0.999);">18:03</span>
<span class="t n" style="left:211.2px;top:521.2px;font-size:11px;line-height:14px;color:#6e6ea6;letter-spacing:-0.22px;transform:scaleX(0.973);">18:37</span>
<svg class="i" style="left:283.65px;top:515.15px" width="11.5" height="11.5" viewBox="0 0 24 24" fill="none" stroke="#d0d0e6" stroke-width="2" stroke-linecap="round" stroke-linejoin="round" ><circle cx="12" cy="12" r="9.6" stroke-dasharray="3.9 3.64" stroke-linecap="butt"/><circle cx="12" cy="12" r="3.6" fill="#dadaea" stroke="none"/></svg>
<span class="t" style="left:306.0px;top:513.1px;font-size:12.5px;line-height:16px;font-weight:700;color:#1a1a2e;letter-spacing:0.01px;">Hjemst...</span>
<svg class="i" style="left:365.9px;top:517.7px" width="8.6" height="7" viewBox="0 0 8.6 7" fill="none" stroke="#bcbcd8" stroke-width="1.25" stroke-linecap="round" stroke-linejoin="round"><path d="M0.5 3.5H8 M6.1 1.6 8 3.5 6.1 5.4"/></svg>
<span class="t" style="left:379.7px;top:513.1px;font-size:12.5px;line-height:16px;font-weight:700;color:#1a1a2e;letter-spacing:-0.07px;">Sandvika Sentr...</span>
<span class="t n" style="left:492.8px;top:513.6px;font-size:11.2px;line-height:15px;color:#5a5a88;letter-spacing:0.18px;">Intern</span>
<span class="t" style="left:528.0px;top:515.6px;font-size:9.5px;line-height:12px;color:#a5a5c6;">&times;</span>
<span class="t n" style="left:538.8px;top:513.6px;font-size:11.2px;line-height:15px;color:#5a5a88;letter-spacing:-0.22px;transform:scaleX(0.982);">Annet</span>
<div class="tag" style="left:578.2px;top:513px;width:50.4px"></div>
<span class="t m" style="left:585.0px;top:514.1px;font-size:11.2px;line-height:15px;color:#7070a6;letter-spacing:-0.22px;transform:scaleX(0.942);">Bil #101</span>
<div class="av" style="left:636px;top:509.5px;width:23px;height:23px"></div>
<span class="t" style="left:642.2px;top:515.3px;font-size:9.5px;line-height:12px;font-weight:700;color:#fff;letter-spacing:-0.19px;transform:scaleX(0.933);">SJ</span>
<span class="t n" style="left:678.1px;top:513.6px;font-size:11.2px;line-height:15px;color:#7070a3;letter-spacing:-0.16px;">18.6 km</span>
<svg class="i" style="left:726.8px;top:515.8px" width="10.2" height="10.2" viewBox="0 0 10 10"><rect width="10" height="10" fill="#dedeed"/><path d="M.5 3V.5H3M7 .5h2.5V3M9.5 7v2.5H7M3 9.500H.5V7" fill="none" stroke="#b4b4d2" stroke-width="1"/><path d="M1.7 1.700h2.300v2.300H1.700zM6 1.700h2.300v2.300H6zM1.700 6h2.300v2.300H1.700zM6 6h2.300v2.300H6z" fill="#fff"/></svg>
<svg class="i" style="left:742.95px;top:514.65px" width="12.5" height="12.5" viewBox="0 0 24 24" fill="none" stroke="#bcbcd8" stroke-width="1.9" stroke-linecap="round" stroke-linejoin="round" ><path d="M20 21v-2a4 4 0 0 0-4-4H8a4 4 0 0 0-4 4v2"/><circle cx="12" cy="7" r="4"/></svg>
<svg class="i" style="left:759.9px;top:514.9px" width="12" height="12" viewBox="0 0 24 24" fill="none" stroke="#c6c6de" stroke-width="1.9" stroke-linecap="round" stroke-linejoin="round" ><path d="M10 13a5 5 0 0 0 7.54.54l3-3a5 5 0 0 0-7.07-7.07l-1.72 1.71"/><path d="M14 11a5 5 0 0 0-7.54-.54l-3 3a5 5 0 0 0 7.07 7.07l1.71-1.71"/></svg>
<span class="t" style="left:799.0px;top:513.1px;font-size:12.5px;line-height:16px;font-weight:700;color:#332e8e;letter-spacing:0.01px;">98.7 kr</span>
<span class="t n" style="left:876.3px;top:513.6px;font-size:11.2px;line-height:15px;color:#7070a3;letter-spacing:-0.12px;">Bekreftet</span>
<svg class="i" style="left:933.45px;top:513.35px" width="15.3" height="15.3" viewBox="0 0 24 24" fill="none" stroke="#bcbcd8" stroke-width="1.7" stroke-linecap="round" stroke-linejoin="round" ><path d="M3 7v6h6"/><path d="M21 17a9 9 0 0 0-9-9 9 9 0 0 0-6 2.300L3 13"/></svg>
<div class="hl" style="left:167px;top:545px;width:801px"></div>
</div>
<div class="trip">
<div class="cb" style="top:561.8px"></div>
<span class="t n" style="left:211.2px;top:553.1px;font-size:11px;line-height:14px;color:#6e6ea6;letter-spacing:-0.18px;">20:41</span>
<span class="t n" style="left:211.2px;top:569.1px;font-size:11px;line-height:14px;color:#6e6ea6;letter-spacing:0.12px;">20:55</span>
<svg class="i" style="left:283.65px;top:563.05px" width="11.5" height="11.5" viewBox="0 0 24 24" fill="none" stroke="#d0d0e6" stroke-width="2" stroke-linecap="round" stroke-linejoin="round" ><circle cx="12" cy="12" r="9.6" stroke-dasharray="3.9 3.64" stroke-linecap="butt"/><circle cx="12" cy="12" r="3.6" fill="#dadaea" stroke="none"/></svg>
<span class="t" style="left:306.0px;top:561.0px;font-size:12.5px;line-height:16px;font-weight:700;color:#1a1a2e;letter-spacing:-0.04px;">Sandvika Sentr...</span>
<svg class="i" style="left:415px;top:565.6px" width="8.5" height="7" viewBox="0 0 8.5 7" fill="none" stroke="#bcbcd8" stroke-width="1.25" stroke-linecap="round" stroke-linejoin="round"><path d="M0.5 3.5H7.9 M6 1.6 7.9 3.5 6 5.4"/></svg>
<span class="t" style="left:429.5px;top:561.0px;font-size:12.5px;line-height:16px;font-weight:700;color:#1a1a2e;letter-spacing:0.01px;">Hjemst...</span>
<span class="t n" style="left:492.8px;top:561.5px;font-size:11.2px;line-height:15px;color:#5a5a88;letter-spacing:0.18px;">Intern</span>
<span class="t" style="left:528.0px;top:563.5px;font-size:9.5px;line-height:12px;color:#a5a5c6;">&times;</span>
<span class="t n" style="left:538.8px;top:561.5px;font-size:11.2px;line-height:15px;color:#5a5a88;letter-spacing:-0.22px;transform:scaleX(0.982);">Annet</span>
<div class="tag" style="left:578.2px;top:560px;width:50.4px"></div>
<span class="t m" style="left:585.0px;top:561.1px;font-size:11.2px;line-height:15px;color:#7070a6;letter-spacing:-0.22px;transform:scaleX(0.942);">Bil #101</span>
<div class="av" style="left:636px;top:557.4px;width:23px;height:23px"></div>
<span class="t" style="left:642.2px;top:563.2px;font-size:9.5px;line-height:12px;font-weight:700;color:#fff;letter-spacing:-0.19px;transform:scaleX(0.933);">SJ</span>
<span class="t n" style="left:684.2px;top:561.5px;font-size:11.2px;line-height:15px;color:#7070a3;letter-spacing:-0.17px;">7.6 km</span>
<svg class="i" style="left:726.8px;top:563.7px" width="10.2" height="10.2" viewBox="0 0 10 10"><rect width="10" height="10" fill="#dedeed"/><path d="M.5 3V.5H3M7 .5h2.5V3M9.5 7v2.5H7M3 9.500H.5V7" fill="none" stroke="#b4b4d2" stroke-width="1"/><path d="M1.7 1.700h2.300v2.300H1.700zM6 1.700h2.300v2.300H6zM1.700 6h2.300v2.300H1.700zM6 6h2.300v2.300H6z" fill="#fff"/></svg>
<svg class="i" style="left:742.95px;top:562.55px" width="12.5" height="12.5" viewBox="0 0 24 24" fill="none" stroke="#bcbcd8" stroke-width="1.9" stroke-linecap="round" stroke-linejoin="round" ><path d="M20 21v-2a4 4 0 0 0-4-4H8a4 4 0 0 0-4 4v2"/><circle cx="12" cy="7" r="4"/></svg>
<svg class="i" style="left:759.9px;top:562.8px" width="12" height="12" viewBox="0 0 24 24" fill="none" stroke="#c6c6de" stroke-width="1.9" stroke-linecap="round" stroke-linejoin="round" ><path d="M10 13a5 5 0 0 0 7.54.54l3-3a5 5 0 0 0-7.07-7.07l-1.72 1.71"/><path d="M14 11a5 5 0 0 0-7.54-.54l-3 3a5 5 0 0 0 7.07 7.07l1.71-1.71"/></svg>
<span class="t" style="left:789.8px;top:561.0px;font-size:12.5px;line-height:16px;font-weight:700;color:#332e8e;letter-spacing:0.33px;">40.06 kr</span>
<span class="t n" style="left:876.3px;top:561.5px;font-size:11.2px;line-height:15px;color:#7070a3;letter-spacing:-0.12px;">Bekreftet</span>
<svg class="i" style="left:933.45px;top:561.25px" width="15.3" height="15.3" viewBox="0 0 24 24" fill="none" stroke="#bcbcd8" stroke-width="1.7" stroke-linecap="round" stroke-linejoin="round" ><path d="M3 7v6h6"/><path d="M21 17a9 9 0 0 0-9-9 9 9 0 0 0-6 2.300L3 13"/></svg>
<div class="hl" style="left:167px;top:592px;width:801px"></div>
</div>
</section>
</main>
</body></html>
